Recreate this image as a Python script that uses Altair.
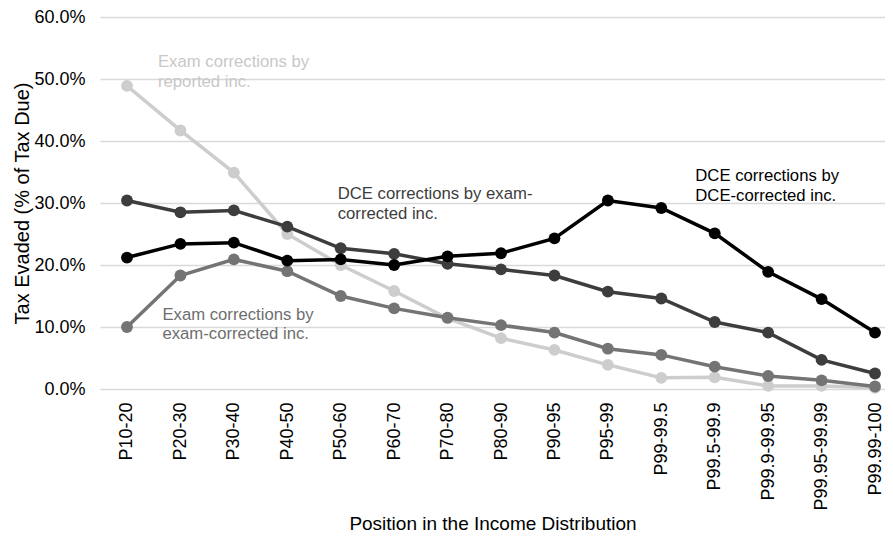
import altair as alt
import pandas as pd

categories = ["P10-20", "P20-30", "P30-40", "P40-50", "P50-60", "P60-70", "P70-80",
              "P80-90", "P90-95", "P95-99", "P99-99.5", "P99.5-99.9", "P99.9-99.95",
              "P99.95-99.99", "P99.99-100"]

exam_reported = [48.9, 41.7, 34.9, 25.0, 20.0, 15.8, 11.4, 8.2, 6.3, 3.9, 1.8, 1.9, 0.5, 0.5, 0.2]
exam_corrected = [10.0, 18.3, 20.9, 19.0, 15.0, 13.0, 11.5, 10.3, 9.1, 6.5, 5.5, 3.6, 2.1, 1.4, 0.4]
dce_exam = [30.4, 28.5, 28.8, 26.2, 22.7, 21.8, 20.2, 19.3, 18.3, 15.7, 14.6, 10.8, 9.1, 4.7, 2.5]
dce_dce = [21.2, 23.4, 23.6, 20.7, 20.9, 20.0, 21.4, 21.9, 24.3, 30.4, 29.2, 25.1, 18.9, 14.5, 9.1]

y_ticks = [0, 10, 20, 30, 40, 50, 60]

# annotation texts (lines), anchor category and value per line
ann_reported = ["Exam corrections by", "reported inc."]
ann_reported_at = ["P10-20", [52.7, 49.5]]
ann_corrected = ["Exam corrections by", "exam-corrected inc."]
ann_corrected_at = ["P20-30", [11.9, 8.85]]
ann_dce_exam = ["DCE corrections by exam-", "corrected inc."]
ann_dce_exam_at = ["P50-60", [31.5, 28.3]]
ann_dce_dce = ["DCE corrections by", "DCE-corrected inc."]
ann_dce_dce_at = ["P99-99.5", [34.4, 31.2]]

FONT = "Liberation Sans"

x_enc = alt.X(
    "cat:N", sort=categories,
    scale=alt.Scale(type="point", padding=0.346, align=0.73),
    axis=alt.Axis(
        title="Position in the Income Distribution", titleFontSize=19, titleFont=FONT,
        titleFontWeight="normal", titleColor="#000000", titleY=134, titleBaseline="middle",
        labelAngle=270, labelAlign="right", labelBaseline="middle", labelPadding=13,
        labelFontSize=18, labelFont=FONT, labelColor="#000000",
        ticks=False, domain=False, grid=False,
    ),
)
y_enc = alt.Y(
    "val:Q",
    scale=alt.Scale(domain=[0, 60], nice=False, zero=True),
    axis=alt.Axis(
        title="Tax Evaded (% of Tax Due)", titleFontSize=20, titleFont=FONT,
        titleFontWeight="normal", titleColor="#000000", titleX=-78, titleY=186,
        titleAngle=270, titleBaseline="middle", titleAlign="center",
        values=y_ticks, labelExpr="format(datum.value, '.1f') + '%'",
        labelFontSize=18, labelFont=FONT, labelColor="#000000", labelPadding=15,
        ticks=False, domain=False, grid=True, gridColor="#d9d9d9", gridWidth=1.3,
    ),
)

series = [
    (exam_reported, "#cdcdcd"),
    (exam_corrected, "#747474"),
    (dce_exam, "#3d3d3d"),
    (dce_dce, "#000000"),
]

layers = []
for vals, col in series:
    df = pd.DataFrame({"cat": categories, "val": vals})
    base = alt.Chart(df).encode(x=x_enc, y=y_enc)
    layers.append(base.mark_line(color=col, strokeWidth=3.5))
    layers.append(base.mark_circle(color=col, size=140, opacity=1))

annots = [
    (ann_reported, ann_reported_at, "#c8c8c8", 31),
    (ann_corrected, ann_corrected_at, "#6e6e6e", -18),
    (ann_dce_exam, ann_dce_exam_at, "#3d3d3d", -3),
    (ann_dce_dce, ann_dce_dce_at, "#000000", 34),
]
for lines, at, col, dx in annots:
    df = pd.DataFrame({"cat": [at[0]] * len(lines), "val": at[1], "txt": lines})
    layers.append(
        alt.Chart(df).mark_text(
            align="left", baseline="middle", dx=dx, fontSize=16.7, font=FONT, color=col
        ).encode(x=x_enc, y=y_enc, text="txt:N")
    )

chart = alt.layer(*layers).properties(
    width=785, height=372,
    padding={"left": 92, "top": 9, "right": 0, "bottom": 146},
    autosize=alt.AutoSizeParams(type="none"),
    background="white",
).configure_view(stroke=None)

chart.save("out.html", embed_options={"renderer": "svg", "actions": False})
